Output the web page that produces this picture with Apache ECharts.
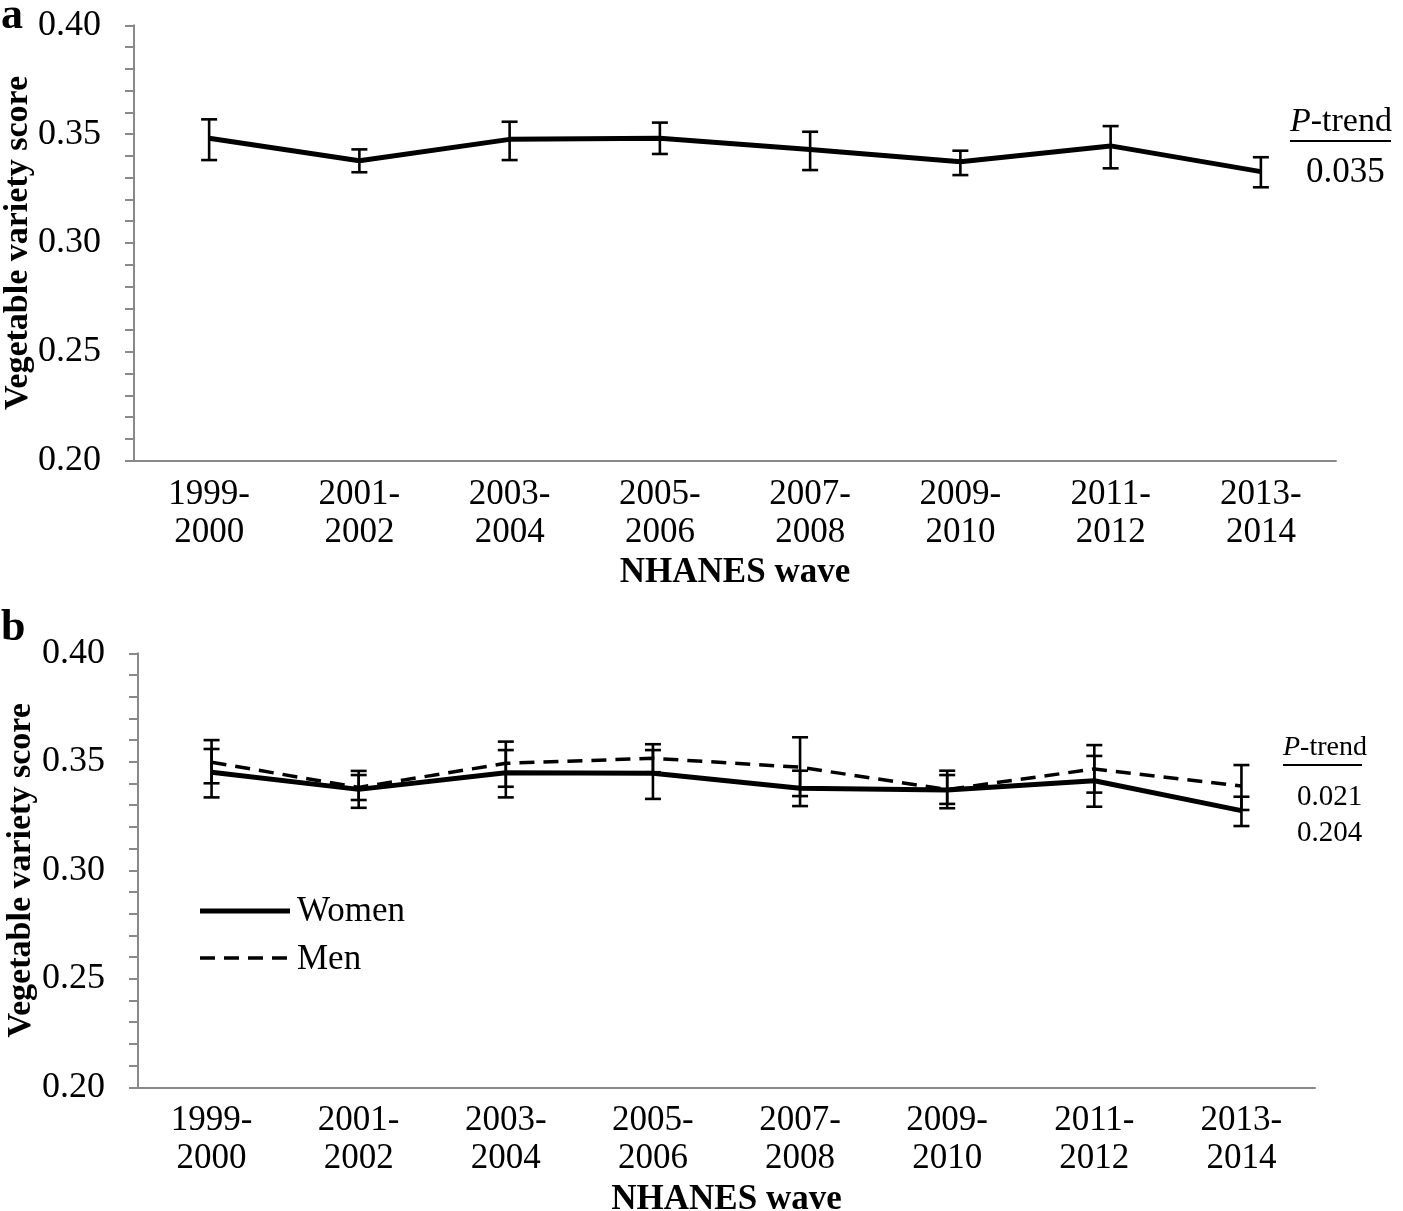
<!DOCTYPE html>
<html><head><meta charset="utf-8">
<script src="https://cdn.jsdelivr.net/npm/echarts@6/dist/echarts.min.js"></script>
<style>html,body{margin:0;padding:0;background:#fff}#c{width:1403px;height:1211px}</style>
</head><body><div id="c"></div>
<script>
const waves = ['1999-\n2000','2001-\n2002','2003-\n2004','2005-\n2006','2007-\n2008','2009-\n2010','2011-\n2012','2013-\n2014'];
const yTicks = [0.20,0.25,0.30,0.35,0.40];
// Panel a: all adults
const allMean = [0.3481,0.3378,0.3476,0.3481,0.3430,0.3373,0.3446,0.3328];
const allLow  = [0.3381,0.3325,0.3381,0.3409,0.3335,0.3312,0.3343,0.3256];
const allHigh = [0.3568,0.3430,0.3557,0.3553,0.3511,0.3424,0.3537,0.3394];
// Panel b: by sex
const womenMean = [0.3452,0.3373,0.3450,0.3447,0.3378,0.3370,0.3413,0.3275];
const womenLow  = [0.3336,0.3288,0.3336,0.3329,0.3296,0.3306,0.3293,0.3204];
const womenHigh = [0.3559,0.3458,0.3554,0.3554,0.3459,0.3439,0.3527,0.3339];
const menMean = [0.3498,0.3382,0.3493,0.3516,0.3475,0.3372,0.3467,0.3388];
const menLow  = [0.3401,0.3324,0.3385,0.3452,0.3342,0.3286,0.3358,0.3278];
const menHigh = [0.3600,0.3439,0.3593,0.3581,0.3613,0.3459,0.3577,0.3485];
const legendNames = ['Women','Men'];
const pTrendA = ['0.035'];
const pTrendB = ['0.021','0.204'];

const FONT = 'Liberation Serif';
const AX = '#898989';
const chart = echarts.init(document.getElementById('c'));

function errData(low, high){ return low.map((l,i)=>[i,l,high[i]]); }
function errSeries(x, low, high){
  return {
    type:'custom', xAxisIndex:x, yAxisIndex:x, silent:true, z:5,
    data: errData(low, high),
    renderItem: function(params, api){
      const a = api.coord([api.value(0), api.value(1)]);
      const b = api.coord([api.value(0), api.value(2)]);
      const hw = 8;
      const st = {stroke:'#000', lineWidth:2.6};
      return {type:'group', children:[
        {type:'line', shape:{x1:a[0],y1:a[1],x2:b[0],y2:b[1]}, style:st},
        {type:'line', shape:{x1:a[0]-hw,y1:a[1],x2:a[0]+hw,y2:a[1]}, style:st},
        {type:'line', shape:{x1:b[0]-hw,y1:b[1],x2:b[0]+hw,y2:b[1]}, style:st}
      ]};
    }
  };
}
function xAxisDef(gi){
  return {
    type:'category', gridIndex:gi, data:waves, boundaryGap:true,
    axisLine:{lineStyle:{color:AX,width:2}}, axisTick:{show:false},
    axisLabel:{color:'#000', fontFamily:FONT, fontSize:35, lineHeight:38, margin:15},
    name:'NHANES wave', nameLocation:'middle', nameGap:95, nameMoveOverlap:false,
    nameTextStyle:{color:'#000', fontFamily:FONT, fontSize:35, fontWeight:'bold'}
  };
}
function yAxisDef(gi){
  return {
    type:'value', gridIndex:gi, min:yTicks[0], max:yTicks[yTicks.length-1], interval:0.01,
    axisLine:{show:true, lineStyle:{color:AX,width:2}},
    axisTick:{show:true, inside:false, length:9, lineStyle:{color:AX,width:2}},
    splitLine:{show:false},
    axisLabel:{color:'#000', fontFamily:FONT, fontSize:36, margin:33,
      formatter:function(v){ const k=Math.round(v*100); return (k%5===0)? (k/100).toFixed(2):''; }},
    name:'Vegetable variety score', nameLocation:'middle', nameGap:gi===0?99:100, nameRotate:90,
    nameMoveOverlap:false,
    nameTextStyle:{color:'#000', fontFamily:FONT, fontSize:34, fontWeight:'bold'}
  };
}

chart.setOption({
  animation:false,
  backgroundColor:'#fff',
  grid:[
    {left:134, top:25.3, width:1202, height:435.4, containLabel:false, outerBoundsMode:'none'},
    {left:138, top:653.3, width:1177, height:434, containLabel:false, outerBoundsMode:'none'}
  ],
  xAxis:[xAxisDef(0), xAxisDef(1)],
  yAxis:[yAxisDef(0), yAxisDef(1)],
  series:[
    {type:'line', name:'All', xAxisIndex:0, yAxisIndex:0, data:allMean, symbol:'none',
     lineStyle:{color:'#000', width:5}, z:4},
    errSeries(0, allLow, allHigh),
    {type:'line', name:legendNames[1], xAxisIndex:1, yAxisIndex:1, data:menMean, symbol:'none',
     lineStyle:{color:'#000', width:3.5, type:[15,9]}, itemStyle:{color:'#000'}, z:3},
    {type:'line', name:legendNames[0], xAxisIndex:1, yAxisIndex:1, data:womenMean, symbol:'none',
     lineStyle:{color:'#000', width:5}, itemStyle:{color:'#000'}, z:4},
    errSeries(1, menLow, menHigh),
    errSeries(1, womenLow, womenHigh)
  ],
  graphic:[
    {type:'text', left:1, top:-5, style:{text:'a', font:'bold 44px "Liberation Serif"', fill:'#000'}},
    {type:'text', left:1, top:607, style:{text:'b', font:'bold 44px "Liberation Serif"', fill:'#000'}},
    // legend
    {type:'line', shape:{x1:200,y1:911,x2:290,y2:911}, style:{stroke:'#000', lineWidth:5}},
    {type:'text', x:297, y:912, style:{text:legendNames[0], textVerticalAlign:'middle', font:'35px "Liberation Serif"', fill:'#000'}},
    {type:'line', shape:{x1:200,y1:958,x2:292,y2:958}, style:{stroke:'#000', lineWidth:3.5, lineDash:[15,9]}},
    {type:'text', x:297, y:960, style:{text:legendNames[1], textVerticalAlign:'middle', font:'35px "Liberation Serif"', fill:'#000'}},
    // panel a P-trend
    {type:'text', x:1290, y:122, style:{text:'{i|P}-trend', textVerticalAlign:'middle',
      font:'34px "Liberation Serif"', fill:'#000', rich:{i:{fontStyle:'italic', fontFamily:FONT, fontSize:34}}}},
    {type:'line', shape:{x1:1290,y1:141,x2:1391,y2:141}, style:{stroke:'#000', lineWidth:2}},
    {type:'text', x:1306, y:173, style:{text:pTrendA[0], textVerticalAlign:'middle', font:'35px "Liberation Serif"', fill:'#000'}},
    // panel b P-trend
    {type:'text', x:1283, y:748, style:{text:'{i|P}-trend', textVerticalAlign:'middle',
      font:'28px "Liberation Serif"', fill:'#000', rich:{i:{fontStyle:'italic', fontFamily:FONT, fontSize:28}}}},
    {type:'line', shape:{x1:1283,y1:765,x2:1362,y2:765}, style:{stroke:'#000', lineWidth:2}},
    {type:'text', x:1297, y:797, style:{text:pTrendB[0], textVerticalAlign:'middle', font:'29px "Liberation Serif"', fill:'#000'}},
    {type:'text', x:1297, y:833, style:{text:pTrendB[1], textVerticalAlign:'middle', font:'29px "Liberation Serif"', fill:'#000'}}
  ]
});
</script></body></html>
